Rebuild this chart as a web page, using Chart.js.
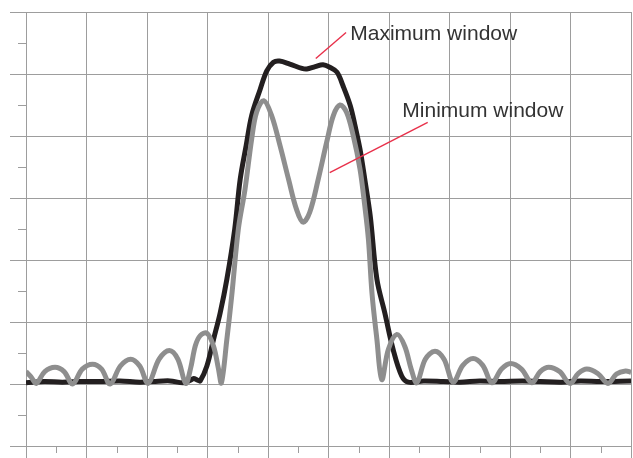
<!DOCTYPE html>
<html>
<head>
<meta charset="utf-8">
<script src="https://cdn.jsdelivr.net/npm/chart.js@4.4.1/dist/chart.umd.min.js"></script>
<style>
  html, body { margin: 0; padding: 0; background: #fff; }
  canvas { display: block; }
</style>
</head>
<body>
<canvas id="windowChart" width="633" height="458"></canvas>
<script>
// Maximum window response (black trace)
const maxX = [0.00, 0.30, 0.60, 0.90, 1.22, 1.55, 1.88, 2.10, 2.38, 2.60, 2.72, 2.77, 2.84, 2.88,
              2.99, 3.10, 3.21, 3.32, 3.45, 3.54, 3.64, 3.73, 3.87, 3.98, 4.09, 4.19, 4.36, 4.56,
              4.64, 4.78, 4.91, 5.02, 5.14, 5.24, 5.36, 5.44, 5.52, 5.60, 5.69, 5.80, 5.93, 6.07,
              6.21, 6.32, 6.57, 6.90, 7.17, 7.50, 7.83, 8.20, 8.50, 8.85, 9.16, 9.50, 10.00];
const maxY = [0.02, 0.04, 0.03, 0.04, 0.04, 0.05, 0.03, 0.04, 0.05, 0.02, 0.06, 0.09, 0.06, 0.05,
              0.29, 0.72, 1.15, 1.69, 2.50, 3.30, 3.85, 4.33, 4.75, 5.05, 5.19, 5.21, 5.16, 5.09,
              5.08, 5.12, 5.15, 5.11, 5.03, 4.81, 4.49, 4.16, 3.79, 3.30, 2.71, 1.69, 1.15, 0.55,
              0.13, 0.03, 0.05, 0.04, 0.03, 0.05, 0.04, 0.05, 0.04, 0.03, 0.05, 0.04, 0.05];

// Minimum window response (grey trace)
const minX = [0.00, 0.08, 0.17, 0.31, 0.48, 0.63, 0.77, 0.93, 1.10, 1.25, 1.39, 1.56, 1.73, 1.88,
              2.02, 2.20, 2.37, 2.51, 2.64, 2.72, 2.80, 2.88, 2.99, 3.10, 3.18, 3.23,
              3.32, 3.40, 3.51, 3.62, 3.73, 3.81, 3.93, 4.06, 4.20, 4.34, 4.47, 4.58, 4.69, 4.83,
              4.97, 5.08, 5.19, 5.30, 5.41, 5.52, 5.60, 5.66, 5.72, 5.80, 5.88,
              5.99, 6.13, 6.26, 6.37, 6.46, 6.60, 6.76, 6.91, 7.06, 7.22, 7.39, 7.55, 7.70,
              7.86, 8.01, 8.19, 8.36, 8.50, 8.64, 8.82, 8.99, 9.13, 9.27, 9.45, 9.62, 9.76, 9.91, 10.00];
const minY = [0.20, 0.12, 0.01, 0.20, 0.27, 0.20, 0.00, 0.24, 0.32, 0.24, 0.00, 0.29, 0.40, 0.29,
              0.01, 0.40, 0.54, 0.40, 0.01, 0.25, 0.62, 0.78, 0.82, 0.61, 0.25, 0.02,
              0.72, 1.42, 2.50, 3.14, 3.95, 4.38, 4.57, 4.33, 3.84, 3.30, 2.82, 2.61, 2.77, 3.30,
              3.90, 4.33, 4.50, 4.38, 4.00, 3.47, 2.87, 2.33, 1.45, 0.72, 0.07,
              0.56, 0.80, 0.61, 0.23, 0.02, 0.40, 0.53, 0.40, 0.03, 0.30, 0.41, 0.30, 0.02,
              0.24, 0.33, 0.24, 0.02, 0.20, 0.27, 0.20, 0.01, 0.17, 0.24, 0.17, 0.01, 0.16, 0.21, 0.19];

const maxLabel = 'Maximum window';
const minLabel = 'Minimum window';

const gridColor = '#9d9d9d';

function toPoints(xs, ys) {
    return xs.map((x, i) => ({ x: x, y: ys[i] }));
}

// half-step tick marks on the left and bottom axes
const minorTicks = {
    id: 'minorTicks',
    afterDraw(chart) {
        const ctx = chart.ctx;
        const xs = chart.scales.x, ys = chart.scales.y;
        const area = chart.chartArea;
        ctx.save();
        ctx.strokeStyle = gridColor;
        ctx.lineWidth = 1;
        for (let v = ys.min + 0.5; v < ys.max; v += 1) {
            const py = Math.round(ys.getPixelForValue(v)) + 0.5;
            ctx.beginPath();
            ctx.moveTo(area.left - 8, py);
            ctx.lineTo(area.left, py);
            ctx.stroke();
        }
        for (let v = xs.min + 0.5; v < xs.max; v += 1) {
            const px = Math.round(xs.getPixelForValue(v)) + 0.5;
            ctx.beginPath();
            ctx.moveTo(px, area.bottom);
            ctx.lineTo(px, area.bottom + 7);
            ctx.stroke();
        }
        ctx.restore();
    }
};

// callout labels with red leader lines
const callouts = {
    id: 'callouts',
    afterDatasetsDraw(chart) {
        const ctx = chart.ctx;
        const xs = chart.scales.x, ys = chart.scales.y;
        const items = [
            { text: maxLabel, tx: 5.36, ty: 5.55, from: [4.79, 5.25], to: [5.29, 5.67] },
            { text: minLabel, tx: 6.22, ty: 4.30, from: [5.02, 3.41], to: [6.64, 4.22] }
        ];
        ctx.save();
        items.forEach(it => {
            ctx.strokeStyle = '#e8304a';
            ctx.lineWidth = 1.4;
            ctx.beginPath();
            ctx.moveTo(xs.getPixelForValue(it.from[0]), ys.getPixelForValue(it.from[1]));
            ctx.lineTo(xs.getPixelForValue(it.to[0]), ys.getPixelForValue(it.to[1]));
            ctx.stroke();
            ctx.fillStyle = '#333333';
            ctx.font = '21px "Liberation Sans", Arial, sans-serif';
            ctx.textAlign = 'left';
            ctx.textBaseline = 'alphabetic';
            ctx.fillText(it.text, xs.getPixelForValue(it.tx), ys.getPixelForValue(it.ty));
        });
        ctx.restore();
    }
};

new Chart(document.getElementById('windowChart').getContext('2d'), {
    type: 'line',
    data: {
        datasets: [
            {
                label: minLabel,
                data: toPoints(minX, minY),
                borderColor: '#8e8e8e',
                borderWidth: 5,
                tension: 0.35,
                pointRadius: 0,
                order: 0
            },
            {
                label: maxLabel,
                data: toPoints(maxX, maxY),
                borderColor: '#231f20',
                borderWidth: 5,
                tension: 0.35,
                pointRadius: 0,
                order: 1
            }
        ]
    },
    options: {
        responsive: false,
        animation: false,
        layout: { padding: { left: 10, top: 12, right: 2, bottom: 0 } },
        plugins: {
            legend: { display: false },
            tooltip: { enabled: false }
        },
        scales: {
            x: {
                type: 'linear',
                min: 0,
                max: 10,
                ticks: { stepSize: 1, display: false },
                grid: { color: gridColor, lineWidth: 1, tickLength: 12 },
                border: { color: gridColor, width: 1 }
            },
            y: {
                type: 'linear',
                min: -1,
                max: 6,
                ticks: { stepSize: 1, display: false },
                grid: { color: gridColor, lineWidth: 1, tickLength: 16 },
                border: { color: gridColor, width: 1 }
            }
        }
    },
    plugins: [minorTicks, callouts]
});
</script>
</body>
</html>
